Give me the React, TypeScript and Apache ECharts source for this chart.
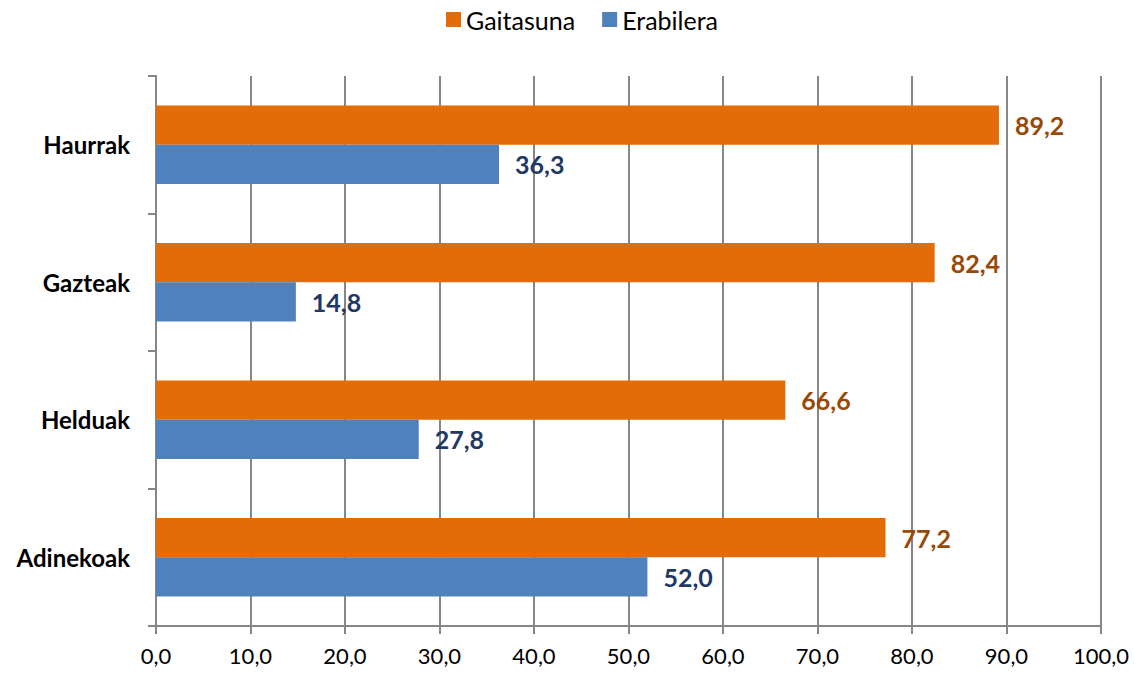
import React, { useEffect, useRef } from "react";
import * as echarts from "echarts";

const categories = ["Haurrak", "Gazteak", "Helduak", "Adinekoak"];
const gaitasuna = [89.2, 82.4, 66.6, 77.2];
const erabilera = [36.3, 14.8, 27.8, 52.0];
const seriesNames = ["Gaitasuna", "Erabilera"];

const FONT = "Lato, 'Open Sans', sans-serif";
const fmt = (v: number) => v.toFixed(1).replace(".", ",");

export default function App() {
  const ref = useRef<HTMLDivElement>(null);
  useEffect(() => {
    const chart = echarts.init(ref.current!, null, { renderer: "svg" });
    chart.setOption({
      animation: false,
      textStyle: { fontFamily: FONT },
      legend: {
        top: 2,
        left: 441,
        itemWidth: 15,
        itemHeight: 15,
        itemGap: 27,
        icon: "rect",
        textStyle: { fontSize: 25, color: "#000", fontFamily: FONT },
        data: seriesNames,
      },
      grid: { left: 156, right: 33, top: 76, bottom: 48, containLabel: false },
      xAxis: {
        type: "value",
        min: 0,
        max: 100,
        interval: 10,
        axisLine: { show: true, lineStyle: { color: "#868686", width: 2 } },
        axisTick: { show: true, length: 8, lineStyle: { color: "#868686", width: 2 } },
        splitLine: { show: true, lineStyle: { color: "#868686", width: 2 } },
        axisLabel: {
          formatter: (v: number) => fmt(v),
          fontSize: 22,
          color: "#000",
          margin: 18,
          fontFamily: FONT,
        },
      },
      yAxis: {
        type: "category",
        inverse: true,
        data: categories,
        axisLine: { show: true, lineStyle: { color: "#868686", width: 2 } },
        axisTick: { show: true, length: 8, lineStyle: { color: "#868686", width: 2 } },
        axisLabel: {
          fontSize: 24,
          fontWeight: "bold",
          color: "#000",
          margin: 26,
          fontFamily: FONT,
        },
      },
      series: [
        {
          name: seriesNames[0],
          type: "bar",
          data: gaitasuna,
          barGap: "0%",
          barCategoryGap: "43%",
          itemStyle: { color: "#E36C09" },
          label: {
            show: true,
            position: "right",
            distance: 16,
            formatter: (p: any) => fmt(p.value),
            fontSize: 25,
            fontWeight: "bold",
            color: "#984807",
            fontFamily: FONT,
          },
        },
        {
          name: seriesNames[1],
          type: "bar",
          data: erabilera,
          barGap: "0%",
          barCategoryGap: "43%",
          itemStyle: { color: "#4F81BD" },
          label: {
            show: true,
            position: "right",
            distance: 16,
            formatter: (p: any) => fmt(p.value),
            fontSize: 25,
            fontWeight: "bold",
            color: "#1F3864",
            fontFamily: FONT,
          },
        },
      ],
    });
    return () => chart.dispose();
  }, []);
  return <div ref={ref} style={{ width: 1134, height: 674, position: "absolute", left: 0, top: 0 }} />;
}
